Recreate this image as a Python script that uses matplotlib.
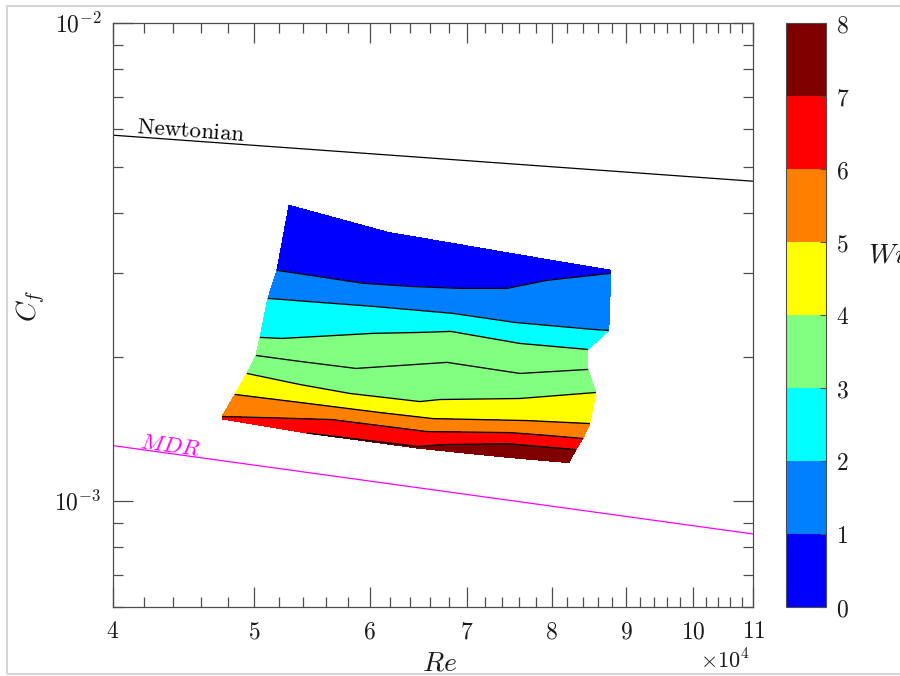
import matplotlib
matplotlib.use('Agg')
import matplotlib.pyplot as plt
import numpy as np
from matplotlib.colors import ListedColormap, BoundaryNorm
from matplotlib.cm import ScalarMappable
from matplotlib.ticker import LogLocator, NullFormatter
from matplotlib.patches import Rectangle

plt.rcParams['mathtext.fontset'] = 'cm'

# Re (x 10^4) at the grid nodes, one row per band edge from top to bottom
re_grid = [
    [5.284, 6.177, 6.812, 7.371, 7.851, 8.363, 8.782],
    [5.184, 5.938, 6.395, 6.921, 7.453, 7.938, 8.782],
    [5.111, 5.549, 6.033, 6.845, 7.548, 8.536, 8.754],
    [5.047, 5.226, 6.033, 6.497, 6.823, 7.607, 8.469],
    [5.015, 5.376, 5.873, 6.780, 7.607, 8.039, 8.469],
    [4.944, 5.376, 5.818, 6.497, 6.706, 7.607, 8.577],
    [4.852, 5.376, 6.100, 6.632, 7.692, 8.103, 8.496],
    [4.754, 5.209, 5.655, 6.569, 7.488, 7.976, 8.402],
    [4.754, 5.087, 5.436, 6.477, 6.737, 7.453, 8.310],
    [4.754, 5.087, 5.436, 6.477, 6.921, 7.512, 8.219],
]
# Cf (x 10^-3) at the same nodes
cf_grid = [
    [4.150, 3.643, 3.462, 3.321, 3.214, 3.111, 3.034],
    [3.034, 2.850, 2.808, 2.781, 2.781, 2.891, 2.990],
    [2.650, 2.599, 2.550, 2.465, 2.360, 2.282, 2.271],
    [2.196, 2.185, 2.239, 2.249, 2.260, 2.133, 2.072],
    [2.013, 1.956, 1.891, 1.947, 1.846, 1.864, 1.882],
    [1.846, 1.750, 1.676, 1.612, 1.628, 1.636, 1.684],
    [1.668, 1.605, 1.529, 1.485, 1.471, 1.460, 1.450],
    [1.500, 1.489, 1.478, 1.395, 1.388, 1.368, 1.349],
    [1.485, 1.436, 1.388, 1.298, 1.310, 1.316, 1.279],
    [1.482, 1.433, 1.385, 1.288, 1.261, 1.230, 1.201],
]
# Weissenberg number at the nodes
wi_grid = [
    [0.4, 0.5, 0.5, 0.6, 0.6, 0.7, 0.9],
    [1.0, 1.0, 1.0, 1.0, 1.0, 1.0, 1.0],
    [2.0, 2.0, 2.0, 2.0, 2.0, 2.0, 2.0],
    [3.0, 3.0, 3.0, 3.0, 3.0, 3.0, 3.0],
    [3.5, 3.5, 3.5, 3.5, 3.5, 3.5, 3.5],
    [4.0, 4.0, 4.0, 4.0, 4.0, 4.0, 4.0],
    [5.0, 5.0, 5.0, 5.0, 5.0, 5.0, 5.0],
    [6.0, 6.0, 6.0, 6.0, 6.0, 6.0, 6.0],
    [6.2, 6.6, 7.0, 7.0, 7.0, 7.0, 7.0],
    [6.2, 6.6, 7.0, 7.1, 7.3, 7.5, 7.6],
]
levels = [0, 1, 2, 3, 3.5, 4, 5, 6, 7, 8]

# reference lines (Re x 10^4, Cf x 10^-3)
newt_re = [4.0, 11.0]
newt_cf = [5.817, 4.659]
mdr_re = [4.0, 11.0]
mdr_cf = [1.304, 0.8515]

RE = np.array(re_grid) * 1e4
CF = np.array(cf_grid) * 1e-3
WI = np.array(wi_grid)

jet8 = ['#0000ff', '#0080ff', '#00ffff', '#80ff80',
        '#ffff00', '#ff8000', '#ff0000', '#800000']
cmap = ListedColormap(jet8)
norm = BoundaryNorm(np.arange(9), cmap.N)

fig = plt.figure(figsize=(9, 6.76), dpi=100)
ax = fig.add_axes([0.1252, 0.1025, 0.712, 0.8639])

ax.contourf(RE, CF, WI, levels=levels, cmap=cmap, norm=norm)
ax.contour(RE, CF, WI, levels=levels[1:-1], colors='k', linewidths=0.95)

ax.plot(np.array(newt_re) * 1e4, np.array(newt_cf) * 1e-3, color='k', lw=0.9)
ax.plot(np.array(mdr_re) * 1e4, np.array(mdr_cf) * 1e-3, color='#ff00ff', lw=0.9)
ax.text(4.15e4, 5.873e-3, r'$\mathrm{Newtonian}$', fontsize=16.5,
        rotation=-4.2, rotation_mode='anchor', ha='left', va='baseline')
ax.text(4.17e4, 1.291e-3, r'$MDR$', fontsize=16.5, color='#ff00ff',
        rotation=-7.5, rotation_mode='anchor', ha='left', va='baseline')

ax.set_xscale('log')
ax.set_yscale('log')
ax.set_xlim(4e4, 11e4)
ax.set_ylim(6e-4, 1e-2)

xt = np.arange(4, 12)
ax.set_xticks(xt * 1e4, [f'${v}$' for v in xt])
xm = np.arange(40, 110, 2)
ax.set_xticks(xm[xm % 10 != 0] * 1e3, minor=True)
ax.xaxis.set_minor_formatter(NullFormatter())
ax.set_yticks([1e-3, 1e-2], [r'$10^{-3}$', r'$10^{-2}$'])
ax.yaxis.set_minor_locator(LogLocator(base=10, subs=np.arange(2, 10)))
ax.yaxis.set_minor_formatter(NullFormatter())

ax.tick_params(which='both', direction='in', top=True, right=True,
               color='0.3', labelcolor='0.1', labelsize=17)
ax.tick_params(which='major', length=14.4, width=0.9)
ax.tick_params(which='minor', length=7.2, width=0.9)
ax.tick_params(axis='x', pad=9)
ax.tick_params(axis='y', pad=8)
for sp in ax.spines.values():
    sp.set_color('0.3')
    sp.set_linewidth(0.9)

ax.set_xlabel(r'$Re$', fontsize=20, va='baseline', color='0.1')
ax.xaxis.set_label_coords(0.51, -0.109)
ax.set_ylabel(r'$C_f$', fontsize=20, va='baseline', color='0.1')
ax.yaxis.set_label_coords(-0.118, 0.515)
ax.text(0.9945, -0.105, r'$\times10^{4}$', transform=ax.transAxes,
        ha='right', va='baseline', fontsize=16, color='0.1')

cax = fig.add_axes([0.8733, 0.1025, 0.0444, 0.8639])
cb = fig.colorbar(ScalarMappable(norm=norm, cmap=cmap), cax=cax, ticks=range(9))
cb.ax.set_yticklabels([f'${i}$' for i in range(9)])
cb.ax.tick_params(direction='in', length=4, width=0.8, color='0.3',
                  labelcolor='0.1', labelsize=17, pad=7)
cb.outline.set_edgecolor('0.3')
cb.outline.set_linewidth(0.8)
fig.text(0.9644, 0.623, r'$Wi$', fontsize=20, ha='left', va='center', color='0.1')

fig.patches.append(Rectangle((0.0078, 0.003), 1.0, 0.988, transform=fig.transFigure,
                             fill=False, edgecolor='#d6d6d6', lw=1.5))

fig.savefig('out.png', dpi=100)
